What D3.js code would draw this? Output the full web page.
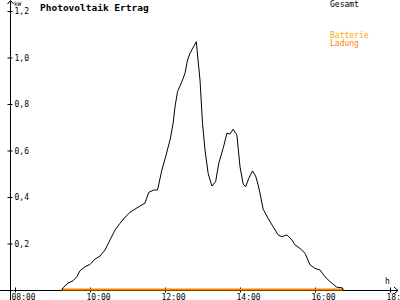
<!DOCTYPE html>
<html>
<head>
<meta charset="utf-8">
<script src="https://cdn.jsdelivr.net/npm/d3@7/dist/d3.min.js"></script>
<style>
  body { margin: 0; background: #fff; }
  svg { display: block; }
  text { font-family: "DejaVu Sans Mono", monospace; }
</style>
</head>
<body>
<div id="chart"></div>
<script>
// Zeitpunkte (hh:mm) und Leistung in kW
const times = ["09:15","09:17","09:25","09:33","09:39","09:44","09:52","10:00","10:08","10:16","10:24",
  "10:32","10:40","10:48","10:56","11:04","11:12","11:20","11:28","11:34","11:42","11:48","11:55",
  "12:01","12:08","12:13","12:16","12:20","12:27","12:32","12:36","12:40","12:50","12:56","13:00",
  "13:04","13:09","13:15","13:21","13:26","13:33","13:39","13:44","13:49","13:55","14:00","14:05",
  "14:09","14:14","14:20","14:25","14:29","14:32","14:37","14:45","14:53","15:01","15:07","15:15",
  "15:23","15:28","15:36","15:44","15:52","16:00","16:08","16:16","16:24","16:35","16:44","16:45"];
const gesamt = [0.0,0.01,0.03,0.04,0.057,0.083,0.10,0.11,0.133,0.146,0.172,
  0.215,0.258,0.287,0.313,0.334,0.348,0.361,0.374,0.42,0.43,0.43,0.516,
  0.573,0.645,0.717,0.788,0.853,0.896,0.932,0.989,1.018,1.068,0.903,0.717,
  0.602,0.502,0.447,0.466,0.545,0.609,0.674,0.671,0.691,0.667,0.53,0.456,
  0.444,0.48,0.512,0.49,0.452,0.416,0.348,0.308,0.272,0.237,0.229,0.237,
  0.215,0.194,0.179,0.158,0.108,0.093,0.086,0.057,0.036,0.012,0.009,0.0];
const ladungTimes = ["09:15","16:45"];
const ladung = [0, 0];

const yTicks = [0.2, 0.4, 0.6, 0.8, 1.0, 1.2];
const xTicks = [8, 10, 12, 14, 16, 18];
const xTickLabels = ["08:00","10:00","12:00","14:00","16:00","18:"];
const seriesNames = ["Gesamt", "Batterie", "Ladung"];

const W = 400, H = 300;
const toHour = s => { const [h, m] = s.split(":").map(Number); return h + m / 60; };

const x = d3.scaleLinear().domain([8, 18]).range([15, 390]);
const y = d3.scaleLinear().domain([0, 1.2]).range([290, 11]);
const comma = d3.formatLocale({decimal: ",", thousands: ".", grouping: [3], currency: ["", ""]}).format(".1f");

const svg = d3.select("#chart").append("svg")
    .attr("width", W)
    .attr("height", H);

// Titel
svg.append("text")
    .attr("x", 40).attr("y", 11)
    .style("font-size", "9.5px")
    .style("font-weight", "bold")
    .text("Photovoltaik Ertrag");

// Legende
svg.append("text").attr("x", 330).attr("y", 7)
    .style("font-size", "8px").attr("fill", "#000").text(seriesNames[0]);
svg.append("text").attr("x", 330).attr("y", 38)
    .style("font-size", "8px").attr("fill", "#ffa500").text(seriesNames[1]);
svg.append("text").attr("x", 330).attr("y", 46)
    .style("font-size", "8px").attr("fill", "#ff8000").text(seriesNames[2]);

// Y-Achse
const yAxis = svg.append("g")
    .attr("transform", "translate(10.5,0)")
    .call(d3.axisRight(y).tickValues(yTicks).tickSize(2).tickFormat(comma));
yAxis.select(".domain").remove();
yAxis.selectAll(".tick line").attr("x1", -3).attr("x2", 2).attr("stroke", "#000");
yAxis.selectAll(".tick text").attr("x", 4)
    .style("font-size", "8px").style("font-family", "DejaVu Sans Mono, monospace");
svg.append("line")
    .attr("x1", 10.5).attr("x2", 10.5).attr("y1", 1).attr("y2", 300)
    .attr("stroke", "#000");
svg.append("path")
    .attr("d", "M7.5,4 L10.5,0.5 L13.5,4")
    .attr("fill", "none").attr("stroke", "#000");
svg.append("text").attr("x", 14).attr("y", 6)
    .style("font-size", "6px").text("kW");

// X-Achse
const xAxis = svg.append("g")
    .attr("transform", "translate(0,290.5)")
    .call(d3.axisBottom(x).tickValues(xTicks).tickSize(2).tickFormat((d, i) => xTickLabels[i]));
xAxis.select(".domain").remove();
xAxis.selectAll(".tick line").attr("y1", -3).attr("y2", 2).attr("stroke", "#000");
xAxis.selectAll(".tick text")
    .attr("y", 9).attr("dy", 0)
    .attr("text-anchor", "start")
    .attr("x", -4)
    .style("font-size", "8px").style("font-family", "DejaVu Sans Mono, monospace");
svg.append("line")
    .attr("x1", 0).attr("x2", 398).attr("y1", 290.5).attr("y2", 290.5)
    .attr("stroke", "#000");
svg.append("path")
    .attr("d", "M394,287 L398,290.5 L394,294")
    .attr("fill", "none").attr("stroke", "#000");
svg.append("text").attr("x", 385).attr("y", 284)
    .style("font-size", "8px").text("h");

// Batterie Ladung
const ladungData = ladungTimes.map((t, i) => ({h: toHour(t), v: ladung[i]}));
svg.append("path")
    .datum(ladungData)
    .attr("fill", "none")
    .attr("stroke", "#ff8000")
    .attr("stroke-width", 2)
    .attr("transform", "translate(0,-0.5)")
    .attr("d", d3.line().x(d => x(d.h)).y(d => y(d.v)));

// Gesamt
const gesamtData = times.map((t, i) => ({h: toHour(t), v: gesamt[i]}));
svg.append("path")
    .datum(gesamtData)
    .attr("fill", "none")
    .attr("stroke", "#000")
    .attr("stroke-width", 1)
    .attr("d", d3.line().x(d => x(d.h)).y(d => y(d.v)));
</script>
</body>
</html>
